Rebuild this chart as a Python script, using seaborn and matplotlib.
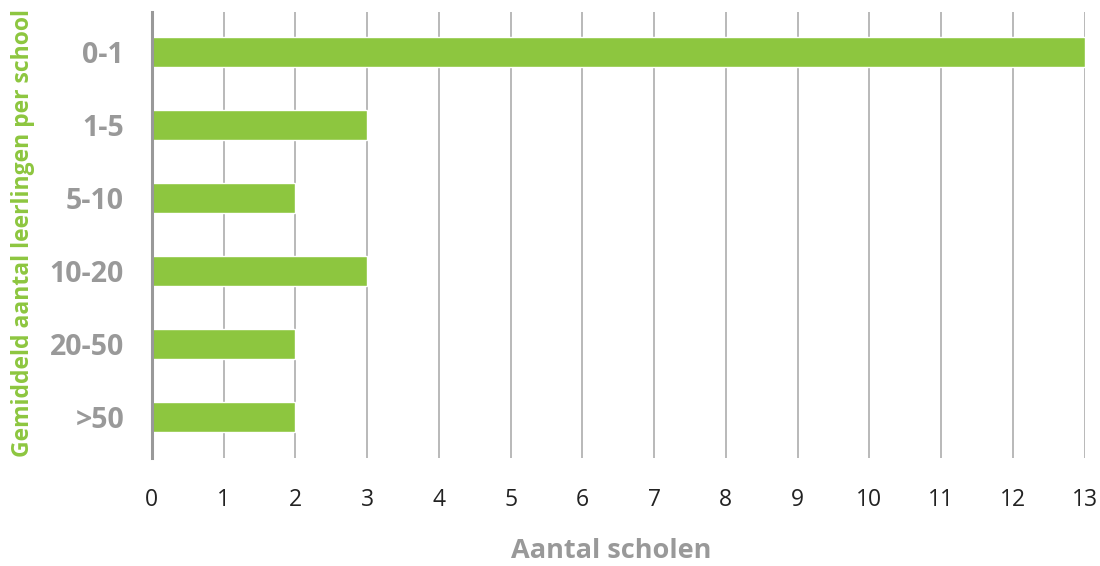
import matplotlib
matplotlib.use("Agg")
import matplotlib.pyplot as plt
import seaborn as sns
import pandas as pd

categories = ["0-1", "1-5", "5-10", "10-20", "20-50", ">50"]
counts = [13, 3, 2, 3, 2, 2]
xticks = list(range(0, 14))

sns.set_theme(style="white")
plt.rcParams['font.family'] = ['Open Sans', 'DejaVu Sans']

df = pd.DataFrame({"cat": categories, "n": counts})

fig = plt.figure(figsize=(11, 5.66), dpi=100)
ax = fig.add_axes([0.138, 0.191, 0.848, 0.788])

green = "#8DC63F"
sns.barplot(data=df, y="cat", x="n", orient="h", color=green, width=0.41,
            saturation=1, ax=ax, order=categories)

ax.set_xlim(0, 13)
ax.set_ylim(5.56, -0.548)
ax.set_xticks(xticks)
ax.set_xticklabels([str(t) for t in xticks], fontsize=16.5, color="#222222")
ax.tick_params(axis="x", length=0, pad=22)
ax.tick_params(axis="y", length=0, pad=20)
for lbl in ax.get_yticklabels():
    lbl.set_fontsize(20.5)
    lbl.set_fontweight("bold")
    lbl.set_color("#999999")

ax.grid(axis="x", color="#B3B3B3", linewidth=1.3)
ax.set_axisbelow(True)
for s in ["top", "right", "bottom"]:
    ax.spines[s].set_visible(False)
ax.spines["left"].set_color("#999999")
ax.spines["left"].set_linewidth(2.2)

ax.set_xlabel("Aantal scholen", fontsize=19.5, fontweight="bold", color="#999999")
ax.xaxis.set_label_coords(0.493, -0.18)
ax.set_ylabel("Gemiddeld aantal leerlingen per school", fontsize=16.5, fontweight="bold",
              color=green)
ax.yaxis.set_label_coords(-0.125, 0.505)

fig.savefig("out.png", dpi=100)
